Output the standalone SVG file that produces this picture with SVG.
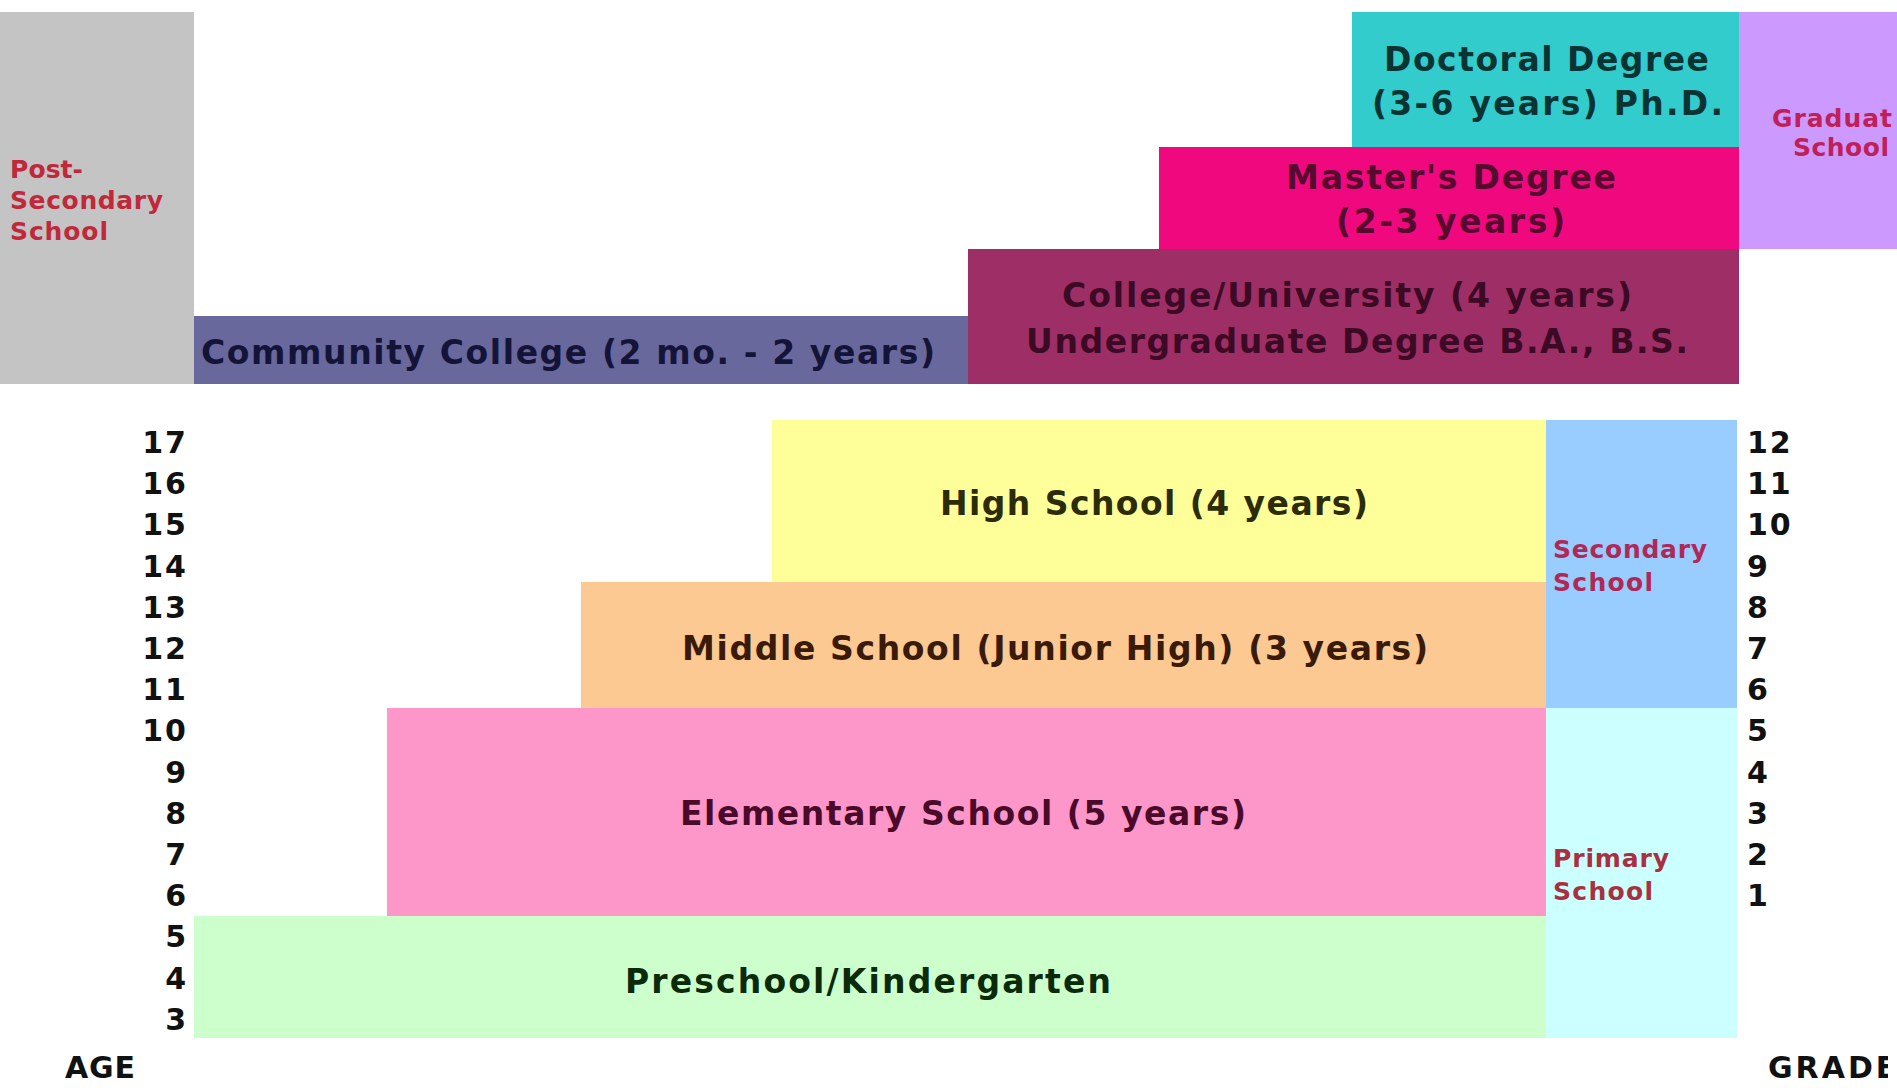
<svg xmlns="http://www.w3.org/2000/svg" width="1897" height="1088" viewBox="0 0 1897 1088">
  <defs>
    <style>
      .lbl { font-family: "DejaVu Sans", "Liberation Sans", sans-serif; font-weight: bold; font-size: 33px; }
      .sm { font-family: "DejaVu Sans", "Liberation Sans", sans-serif; font-weight: bold; font-size: 25px; }
      .num { font-family: "DejaVu Sans", "Liberation Sans", sans-serif; font-weight: bold; font-size: 30px; fill: #111111; letter-spacing: 2px; }
      .axis { font-family: "DejaVu Sans", "Liberation Sans", sans-serif; font-weight: bold; font-size: 30px; fill: #111111; }
    </style>
    <clipPath id="edge">
      <rect x="0" y="0" width="1888" height="1088"/>
    </clipPath>
  </defs>
  <rect x="0" y="0" width="1897" height="1088" fill="#ffffff"/>

  <g id="post-secondary">
    <rect x="0" y="12" width="194" height="372" fill="#c4c4c4"/>
    <text class="sm" fill="#c0283c" x="10" y="178" textLength="73">Post-</text>
    <text class="sm" fill="#c0283c" x="10" y="209" textLength="153">Secondary</text>
    <text class="sm" fill="#c0283c" x="10" y="240" textLength="98">School</text>
  </g>

  <g id="community-college">
    <rect x="194" y="316" width="774" height="68" fill="#68689c"/>
    <text class="lbl" fill="#141438" x="201" y="364" textLength="734">Community College (2 mo. - 2 years)</text>
  </g>

  <g id="college-university">
    <rect x="968" y="249" width="771" height="135" fill="#9e2f66"/>
    <text class="lbl" fill="#3c0a24" x="1062" y="307" textLength="570">College/University (4 years)</text>
    <text class="lbl" fill="#3c0a24" x="1026" y="353" textLength="662">Undergraduate Degree B.A., B.S.</text>
  </g>

  <g id="masters">
    <rect x="1159" y="147" width="580" height="102" fill="#f0087e"/>
    <text class="lbl" fill="#550a2e" x="1286" y="189" textLength="330">Master's Degree</text>
    <text class="lbl" fill="#550a2e" x="1336" y="233" textLength="229">(2-3 years)</text>
  </g>

  <g id="doctoral">
    <rect x="1352" y="12" width="387" height="135" fill="#33cccc"/>
    <text class="lbl" fill="#0a3333" x="1384" y="71" textLength="325">Doctoral Degree</text>
    <text class="lbl" fill="#0a3333" x="1372" y="115" textLength="351">(3-6 years) Ph.D.</text>
  </g>

  <g id="graduate-school">
    <rect x="1739" y="12" width="158" height="237" fill="#cc99ff"/>
    <text class="sm" fill="#c0205a" x="1772" y="127" textLength="120">Graduat</text>
    <text class="sm" fill="#c0205a" x="1793" y="156" textLength="96">School</text>
  </g>

  <g id="high-school">
    <rect x="772" y="420" width="774" height="162" fill="#ffff99"/>
    <text class="lbl" fill="#2c2c08" x="940" y="515" textLength="428">High School (4 years)</text>
  </g>

  <g id="middle-school">
    <rect x="581" y="582" width="965" height="126" fill="#fcc993"/>
    <text class="lbl" fill="#3a1a08" x="682" y="660" textLength="746">Middle School (Junior High) (3 years)</text>
  </g>

  <g id="elementary-school">
    <rect x="387" y="708" width="1159" height="208" fill="#fe97c9"/>
    <text class="lbl" fill="#4a0a2a" x="680" y="825" textLength="566">Elementary School (5 years)</text>
  </g>

  <g id="preschool">
    <rect x="194" y="916" width="1352" height="122" fill="#ccffcc"/>
    <text class="lbl" fill="#0a2a0a" x="625" y="993" textLength="486">Preschool/Kindergarten</text>
  </g>

  <g id="secondary-school">
    <rect x="1546" y="420" width="191" height="288" fill="#99ccff"/>
    <text class="sm" fill="#b02858" x="1553" y="558" textLength="154">Secondary</text>
    <text class="sm" fill="#b02858" x="1553" y="591" textLength="100">School</text>
  </g>

  <g id="primary-school">
    <rect x="1546" y="708" width="191" height="330" fill="#ccffff"/>
    <text class="sm" fill="#a83040" x="1553" y="867" textLength="116">Primary</text>
    <text class="sm" fill="#a83040" x="1553" y="900" textLength="100">School</text>
  </g>

  <g id="age-axis">
    <text class="num" text-anchor="end" x="188" y="453">17</text>
    <text class="num" text-anchor="end" x="188" y="494">16</text>
    <text class="num" text-anchor="end" x="188" y="535">15</text>
    <text class="num" text-anchor="end" x="188" y="577">14</text>
    <text class="num" text-anchor="end" x="188" y="618">13</text>
    <text class="num" text-anchor="end" x="188" y="659">12</text>
    <text class="num" text-anchor="end" x="188" y="700">11</text>
    <text class="num" text-anchor="end" x="188" y="741">10</text>
    <text class="num" text-anchor="end" x="188" y="783">9</text>
    <text class="num" text-anchor="end" x="188" y="824">8</text>
    <text class="num" text-anchor="end" x="188" y="865">7</text>
    <text class="num" text-anchor="end" x="188" y="906">6</text>
    <text class="num" text-anchor="end" x="188" y="947">5</text>
    <text class="num" text-anchor="end" x="188" y="989">4</text>
    <text class="num" text-anchor="end" x="188" y="1030">3</text>
    <text class="axis" x="65" y="1078" textLength="70">AGE</text>
  </g>

  <g id="grade-axis">
    <text class="num" x="1747" y="453">12</text>
    <text class="num" x="1747" y="494">11</text>
    <text class="num" x="1747" y="535">10</text>
    <text class="num" x="1747" y="577">9</text>
    <text class="num" x="1747" y="618">8</text>
    <text class="num" x="1747" y="659">7</text>
    <text class="num" x="1747" y="700">6</text>
    <text class="num" x="1747" y="741">5</text>
    <text class="num" x="1747" y="783">4</text>
    <text class="num" x="1747" y="824">3</text>
    <text class="num" x="1747" y="865">2</text>
    <text class="num" x="1747" y="906">1</text>
    <text class="axis" x="1768" y="1078" letter-spacing="3" clip-path="url(#edge)">GRADE</text>
  </g>

  <g id="connectors"/>
</svg>
